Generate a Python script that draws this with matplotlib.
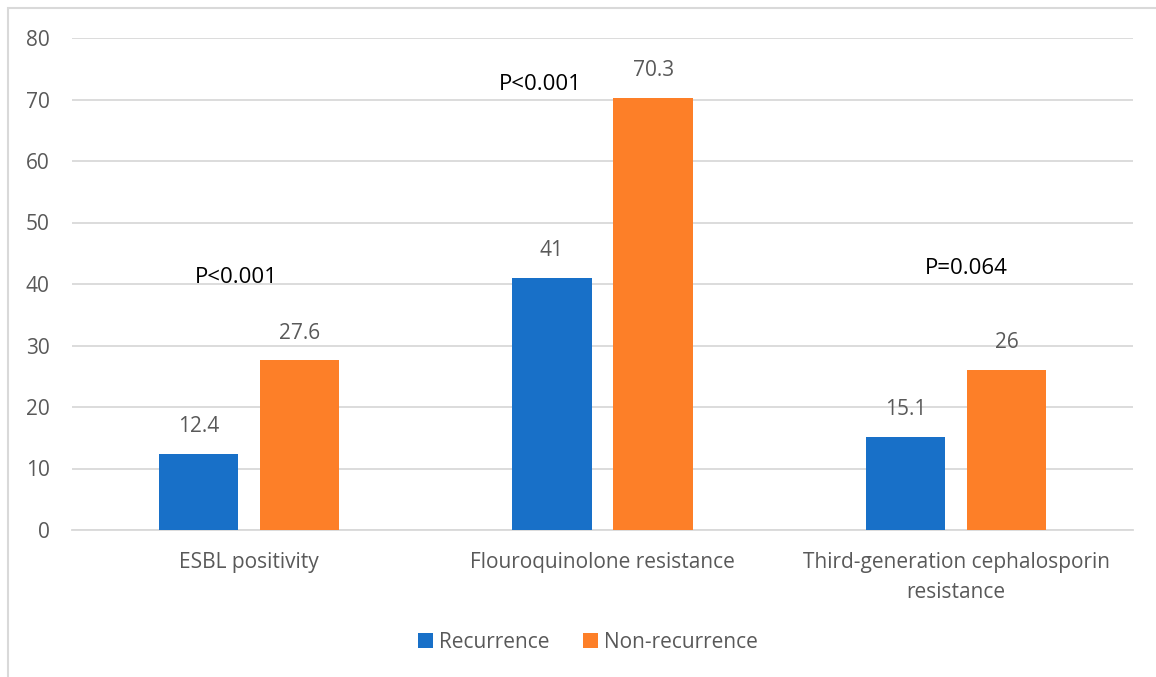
import matplotlib.pyplot as plt
import numpy as np
from matplotlib.patches import Rectangle

plt.rcParams['font.family'] = ['Open Sans', 'DejaVu Sans']

categories = ['ESBL positivity', 'Flouroquinolone resistance',
              'Third-generation cephalosporin\nresistance']
recurrence = [12.4, 41, 15.1]
non_recurrence = [27.6, 70.3, 26]
p_labels = ['P<0.001', 'P<0.001', 'P=0.064']
p_pos = [(-0.035, 41.0), (-0.175, 72.5), (0.03, 42.5)]

blue = '#1870C8'
orange = '#FD7F28'
grey = '#595959'

fig = plt.figure(figsize=(11.56, 6.77), dpi=100)
ax = fig.add_axes([72 / 1156, 1 - 530 / 677, 1061 / 1156, 492 / 677])

# chart frame
fig.patches.append(Rectangle((8 / 1156, -0.05), 1.2, 1 - 8 / 677 + 0.05,
                             transform=fig.transFigure, fill=False,
                             edgecolor='#D9D9D9', linewidth=1.5))

x = np.arange(len(categories))
w = 0.224
off = 0.143
b1 = ax.bar(x - off, recurrence, w, color=blue, label='Recurrence', zorder=3)
b2 = ax.bar(x + off, non_recurrence, w, color=orange, label='Non-recurrence', zorder=3)

for bars, vals in ((b1, recurrence), (b2, non_recurrence)):
    for b, v in zip(bars, vals):
        ax.annotate(f'{v:g}', (b.get_x() + b.get_width() / 2, v),
                    xytext=(0, 12), textcoords='offset points',
                    ha='center', va='bottom', fontsize=15, color=grey)

for i, (lab, (dx, y)) in enumerate(zip(p_labels, p_pos)):
    ax.text(i + dx, y, lab, ha='center', va='center', fontsize=16, color='black')

ax.set_xlim(-0.5, 2.5)
ax.set_ylim(0, 80)
ax.set_yticks(range(0, 81, 10))
ax.yaxis.grid(True, color='#D9D9D9', linewidth=1.3, zorder=0)
ax.set_axisbelow(True)
for s in ['top', 'right', 'left']:
    ax.spines[s].set_visible(False)
ax.spines['bottom'].set_color('#D9D9D9')
ax.spines['bottom'].set_linewidth(1.3)
ax.tick_params(length=0, labelsize=15, colors=grey)
ax.tick_params(axis='y', pad=16)
ax.tick_params(axis='x', pad=16)
ax.set_xticks(x)
ax.set_xticklabels(categories, linespacing=1.55)

fig.legend(loc='center', bbox_to_anchor=(588 / 1156, 1 - 642 / 677), ncol=2,
           frameon=False, fontsize=15, labelcolor=grey, handlelength=0.7,
           handleheight=0.7, handletextpad=0.3, columnspacing=1.6)

fig.savefig('out.png', dpi=100)
